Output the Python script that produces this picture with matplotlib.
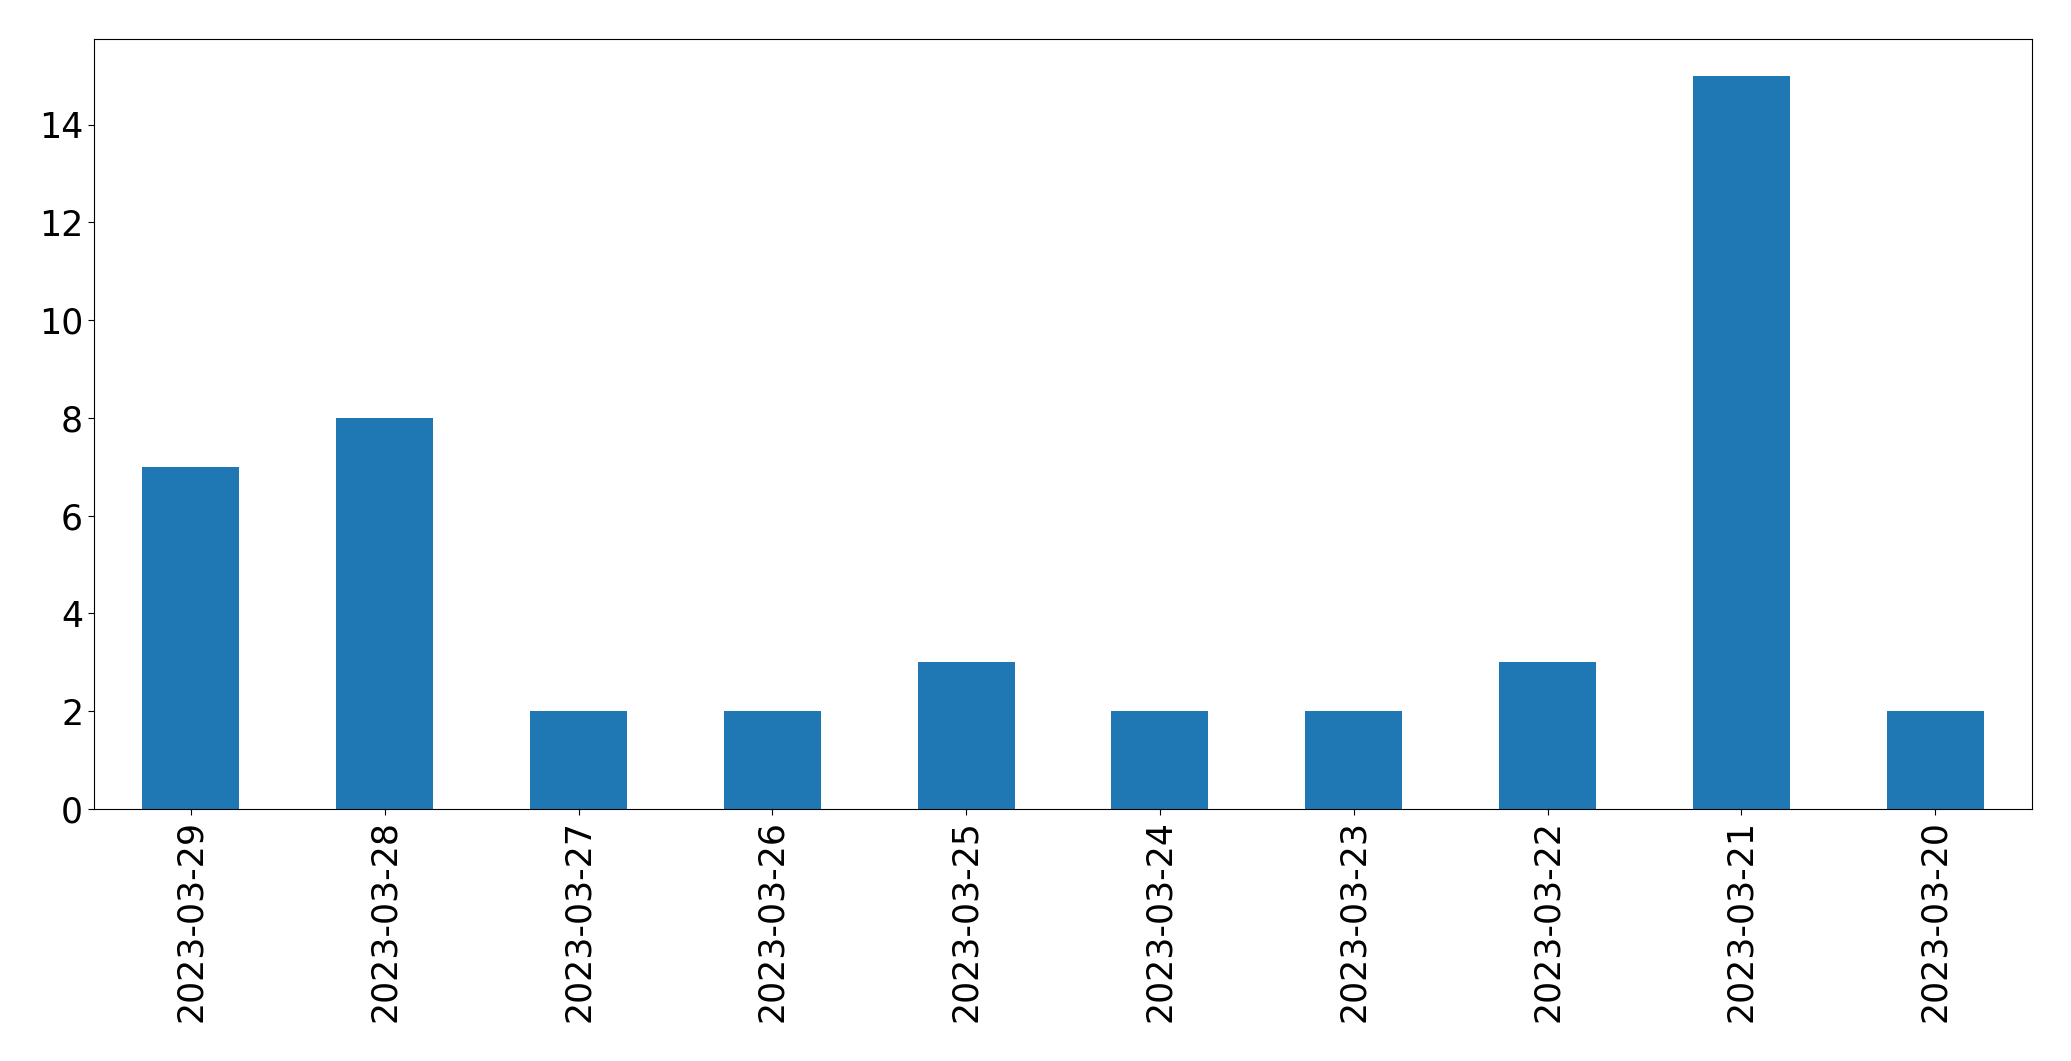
import matplotlib
matplotlib.use("Agg")
import matplotlib.pyplot as plt
import pandas as pd

# --- Données ---
dates = ["2023-03-29", "2023-03-28", "2023-03-27", "2023-03-26", "2023-03-25",
         "2023-03-24", "2023-03-23", "2023-03-22", "2023-03-21", "2023-03-20"]
counts = [7, 8, 2, 2, 3, 2, 2, 3, 15, 2]

serie = pd.Series(counts, index=dates)

# --- Figure ---
fig = plt.figure(figsize=(20.71, 10.61), dpi=100)
ax = fig.add_axes([94 / 2071, 1 - 809 / 1061, (2032 - 94) / 2071, (809 - 39) / 1061])
serie.plot(kind="bar", ax=ax, color="#1f77b4")

ax.tick_params(axis="both", labelsize=25, length=4.3)
for lab in ax.get_xticklabels():
    lab.set_rotation(90)

fig.savefig("out.png", dpi=100)
